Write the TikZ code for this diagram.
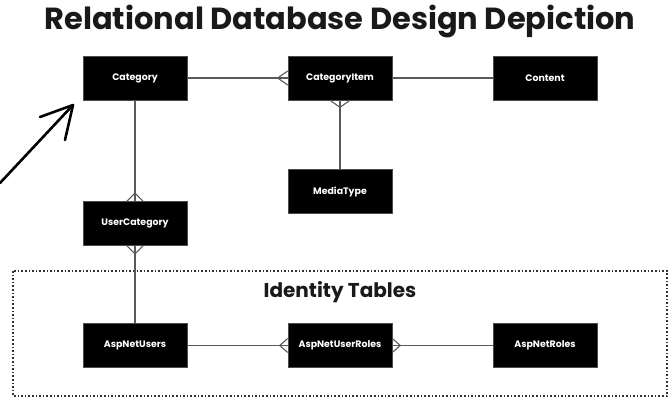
\documentclass[tikz,border=0pt]{standalone}
\usepackage{fontspec}
\setmainfont{Poppins}
\usetikzlibrary{positioning}
\begin{document}
\begin{tikzpicture}[x=1pt,y=-1pt,
  table/.style={rectangle, fill=black, draw=black!70, line width=0.6pt,
    minimum width=104pt, minimum height=44pt, inner sep=0pt,
    text=white, font=\fontsize{9.4}{11}\selectfont\bfseries},
  link/.style={draw=black!65, line width=1.3pt},
  crow/.style={draw=black!65, line width=1.1pt, line join=miter},
  frame/.style={draw=black!80, line width=1.6pt, dotted},
  heading/.style={font=\fontsize{30.5}{36}\selectfont\bfseries, text=black!90, inner sep=0pt},
  subheading/.style={font=\fontsize{20}{24}\selectfont\bfseries, text=black!90, inner sep=0pt}]
\useasboundingbox[fill=white] (0,0) rectangle (672,401);

\node[heading] (title) at (340,21) {Relational Database Design Depiction};

% identity frame
\draw[frame] (13,271) rectangle (667,396);
\node[subheading] (idt) at (340,292) {Identity Tables};

% tables
\node[table] (cat) at (135,78) {Category};
\node[table] (ci) at (340,78) {CategoryItem};
\node[table] (content) at (545,78) {Content};
\node[table] (media) at (340,191.5) {MediaType};
\node[table] (ucat) at (135,223.5) {UserCategory};
\node[table] (users) at (135,345.5) {AspNetUsers};
\node[table] (ur) at (340,345.5) {AspNetUserRoles};
\node[table] (roles) at (545,345.5) {AspNetRoles};

% connectors
\draw[link] (cat.east) -- (ci.west);
\draw[link] (ci.east) -- (content.west);
\draw[link] (ci.south) -- (media.north);
\draw[link] (cat.south) -- (ucat.north);
\draw[link] (ucat.south) -- (users.north);
\draw[link] (users.east) -- (ur.west);
\draw[link] (ur.east) -- (roles.west);

% crow's feet
\draw[crow] ([yshift=7pt]ci.west) -- ++(-10,7) -- ++(10,7);
\draw[crow] ([xshift=-10pt]ci.south) -- ++(10,7) -- ++(10,-7);
\draw[crow] ([xshift=-8pt]ucat.north) -- ++(8,-8) -- ++(8,8);
\draw[crow] ([xshift=-8pt]ucat.south) -- ++(8,8) -- ++(8,-8);
\draw[crow] ([yshift=7pt]ur.west) -- ++(-8,7) -- ++(8,7);
\draw[crow] ([yshift=7pt]ur.east) -- ++(8,7) -- ++(-8,7);

% hand-drawn arrow
\coordinate (atail) at (0,183);
\coordinate (ahead) at (73,105);
\coordinate (abarb1) at (40,117);
\coordinate (abarb2) at (65,140);
\draw[line width=2.6pt, line cap=round, line join=round] (atail) -- (ahead);
\draw[line width=2.6pt, line cap=round, line join=round] (abarb1) -- (ahead) -- (abarb2);
\end{tikzpicture}
\end{document}
